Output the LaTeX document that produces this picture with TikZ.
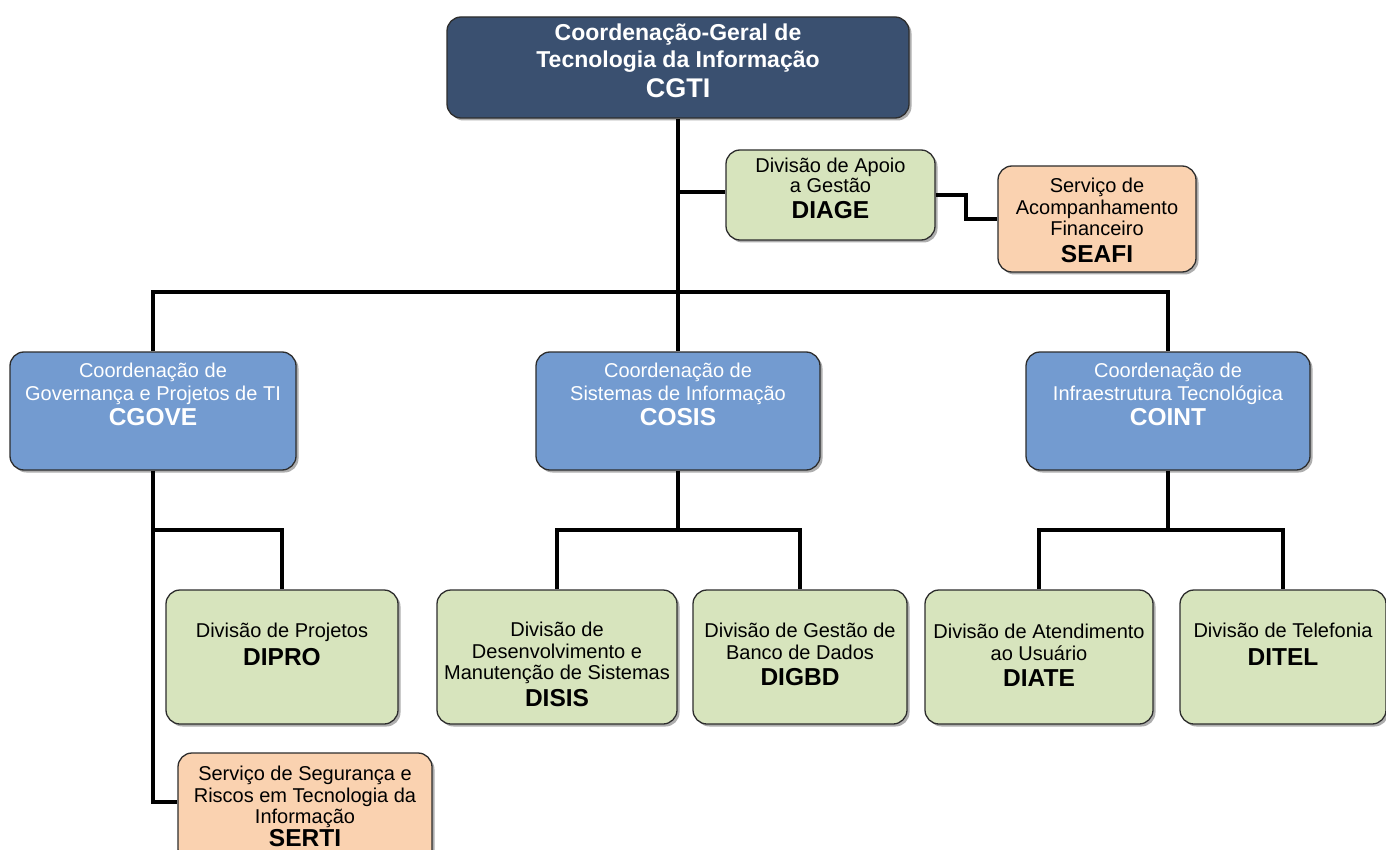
\documentclass[tikz,border=0pt]{standalone}
\usepackage{fontspec}
\setmainfont{Liberation Sans}
\usetikzlibrary{shadows}
\definecolor{navy}{RGB}{58,80,112}
\definecolor{bluebox}{RGB}{115,155,208}
\definecolor{greenbox}{RGB}{215,228,189}
\definecolor{peachbox}{RGB}{250,210,176}
\definecolor{edgegray}{RGB}{45,45,45}
\tikzset{
  orgbox/.style={draw=edgegray, line width=1.3pt, rounded corners=14pt,
    drop shadow={shadow xshift=2.5pt, shadow yshift=-2.5pt, opacity=0.45, fill=black!70}},
  topbox/.style={orgbox, fill=navy},
  coordbox/.style={orgbox, fill=bluebox},
  divbox/.style={orgbox, fill=greenbox},
  servbox/.style={orgbox, fill=peachbox},
  lbl/.style={anchor=north, align=center, inner sep=0pt, font=\fontsize{20}{21.5}\selectfont},
  wlbl/.style={lbl, text=white, font=\fontsize{20}{22.5}\selectfont},
  conn/.style={line width=3.8pt, black},
}
\newcommand{\abbr}[1]{{\bfseries\fontsize{24.5}{26}\selectfont #1}}
\begin{document}
\begin{tikzpicture}[x=1pt,y=-1pt]
\useasboundingbox (0,0) rectangle (1386,850);
\clip (0,0) rectangle (1386,850);
\coordinate (bus) at (678,292);
\coordinate (busL) at (153,292);
\coordinate (busR) at (1168,292);
\coordinate (dj) at (678,192);
% boxes
\node[topbox, minimum width=462pt, minimum height=101pt] (cgti) at (678,67.5) {};
\node[divbox, minimum width=209pt, minimum height=90pt] (diage) at (830.5,195) {};
\node[servbox, minimum width=198pt, minimum height=106pt] (seafi) at (1097,219) {};
\node[coordbox, minimum width=286pt, minimum height=118pt] (cgove) at (153,411) {};
\node[coordbox, minimum width=284pt, minimum height=118pt] (cosis) at (678,411) {};
\node[coordbox, minimum width=284pt, minimum height=118pt] (coint) at (1168,411) {};
\node[divbox, minimum width=232pt, minimum height=134pt] (dipro) at (282,657) {};
\node[divbox, minimum width=240pt, minimum height=134pt] (disis) at (557,657) {};
\node[divbox, minimum width=214pt, minimum height=134pt] (digbd) at (800,657) {};
\node[divbox, minimum width=228pt, minimum height=134pt] (diate) at (1039,657) {};
\node[divbox, minimum width=206pt, minimum height=134pt] (ditel) at (1283,657) {};
\node[servbox, minimum width=254pt, minimum height=110pt] (serti) at (305,808) {};
% connectors
\draw[conn] (cgti.south) -- (bus);
\draw[conn] (dj) -- (diage.west |- dj);
\draw[conn] (diage.east |- 0,195) -- (966,195) -- (966,219) -- (seafi.west);
\draw[conn] (cgove.north) -- (busL) -- (busR) -- (coint.north);
\draw[conn] (bus) -- (cosis.north);
\coordinate (cgj) at (153,530);
\draw[conn] (cgove.south) -- (cgj) -- (282,530) -- (dipro.north);
\draw[conn] (cgj) -- (153,802) -- (serti.west |- 0,802);
\draw[conn] (cosis.south) -- (678,530);
\draw[conn] (disis.north) -- (557,530) -- (800,530) -- (digbd.north);
\draw[conn] (coint.south) -- (1168,530);
\draw[conn] (diate.north) -- (1039,530) -- (1283,530) -- (ditel.north);
% labels
\node[wlbl, font=\bfseries\fontsize{23}{27}\selectfont] (cgti-t) at (678,24) {Coordenação-Geral de\\Tecnologia da Informação\\[3pt]\fontsize{27}{29}\selectfont CGTI};
\node[lbl, font=\fontsize{20}{20}\selectfont] (diage-t) at (830.5,158) {Divisão de Apoio\\a Gestão\\[6pt]\abbr{DIAGE}};
\node[lbl] (seafi-t) at (1097,178) {Serviço de\\Acompanhamento\\Financeiro\\[5pt]\abbr{SEAFI}};
\node[wlbl] (cgove-t) at (153,363) {Coordenação de\\Governança e Projetos de TI\\[3pt]\abbr{CGOVE}};
\node[wlbl] (cosis-t) at (678,363) {Coordenação de\\Sistemas de Informação\\[3pt]\abbr{COSIS}};
\node[wlbl] (coint-t) at (1168,363) {Coordenação de\\Infraestrutura Tecnológica\\[3pt]\abbr{COINT}};
\node[lbl] (dipro-t) at (282,623) {Divisão de Projetos\\[6pt]\abbr{DIPRO}};
\node[lbl] (disis-t) at (557,622) {Divisão de\\Desenvolvimento e\\Manutenção de Sistemas\\[5pt]\abbr{DISIS}};
\node[lbl] (digbd-t) at (800,623) {Divisão de Gestão de\\Banco de Dados\\[5pt]\abbr{DIGBD}};
\node[lbl] (diate-t) at (1039,624) {Divisão de Atendimento\\ao Usuário\\[5pt]\abbr{DIATE}};
\node[lbl] (ditel-t) at (1283,623) {Divisão de Telefonia\\[6pt]\abbr{DITEL}};
\node[lbl] (serti-t) at (305,766) {Serviço de Segurança e\\Riscos em Tecnologia da\\Informação\\[1pt]\abbr{SERTI}};
\end{tikzpicture}
\end{document}
